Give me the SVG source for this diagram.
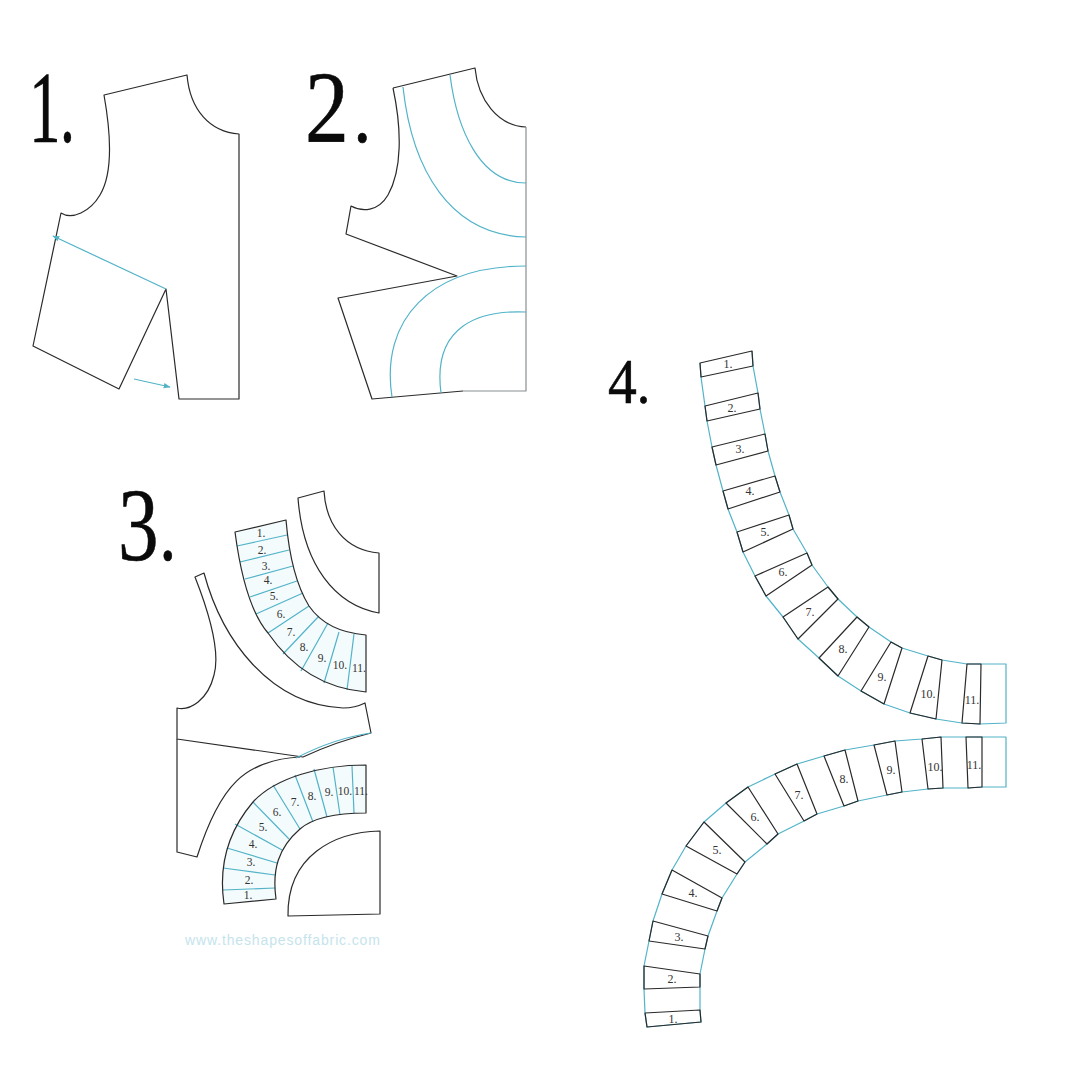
<svg xmlns="http://www.w3.org/2000/svg" width="1080" height="1080" viewBox="0 0 1080 1080">
<style>
.k{fill:none;stroke:#2a2a2a;stroke-width:1.2;stroke-linejoin:round}
.b{fill:none;stroke:#52b3c8;stroke-width:1.2;stroke-linejoin:round}
.t{fill:#f4fbfc;stroke:none}
.big{font-family:"Liberation Serif",serif;fill:#0a0a0a;stroke:#0a0a0a;stroke-width:0.6}
.n{font-family:"Liberation Serif",serif;font-size:12px;fill:#333;text-anchor:middle}
.m{font-family:"Liberation Serif",serif;font-size:11.5px;fill:#333;text-anchor:middle}
.w{font-family:"Liberation Sans",sans-serif;font-size:14px;fill:#c5e4ec;letter-spacing:0.87px}
</style>
<defs>
<marker id="ah" viewBox="0 0 10 10" refX="9" refY="5" markerWidth="7" markerHeight="7" orient="auto-start-reverse" markerUnits="userSpaceOnUse"><path d="M0,1L10,5L0,9Z" fill="#52b3c8"/></marker>
</defs>
<rect width="1080" height="1080" fill="#fff"/>

<g id="panel-1">
<text class="big" transform="translate(29,142) scale(.62,1)" font-size="102">1<tspan dx="-1" font-size="96">.</tspan></text>
<path class="k" d="M104,95L187,75C190,110 210,132 239,134L239,399L179,399L166,289L119,389L33,346L61,213C72,220 90,212 100,195C112,175 112,140 104,95Z"/>
<path class="b" d="M166,289L53,236" marker-end="url(#ah)"/>
<path class="b" d="M134,379L170,387" marker-end="url(#ah)"/>
</g>

<g id="panel-2">
<text class="big" transform="translate(305,142) scale(.86,1)" font-size="102">2<tspan dx="5" font-size="84">.</tspan></text>
<path class="k" d="M393,88L475,68C478,100 498,126 526,127"/>
<path class="k" style="stroke:#8a8f90" d="M526,127L526,391L463,391"/>
<path class="k" d="M463,391L372,399L338,298L457,276L346,234L351,206C362,212 378,212 388,195C402,170 402,130 393,88"/>
<path class="b" d="M403,87C412,170 450,235 526,237"/>
<path class="b" d="M450,75C457,130 480,183 526,183"/>
<path class="b" d="M392,397C380,320 430,266 526,266"/>
<path class="b" d="M441,393C432,325 480,310 526,312"/>
</g>

<g id="panel-3">
<text class="big" transform="translate(118,560) scale(.78,1)" font-size="104">3<tspan dx="1" font-size="88">.</tspan></text>
<g id="p3-top-piece"><path class="k" d="M298,498L324,491C326,525 345,550 379,553L379,613C335,605 303,565 298,498Z"/></g>
<g id="p3-upper-strip">
<path class="t" d="M235,532L286,520C289,555 296,585 309,606C322,625 342,633 366,635L366,692C320,688 290,665 268,633C250,612 240,570 235,532Z"/>
<path class="b" d="M237,546L287,535M240,562L289,550M245,579L293,566M250,597L297,581M256,614L303,593M268,633L309,606M283,654L319,616M301,671L328,623M324,683L339,632M347,690L354,634"/>
<path class="k" d="M235,532L286,520C289,555 296,585 309,606C322,625 342,633 366,635L366,692C320,688 290,665 268,633C250,612 240,570 235,532Z"/>
<text class="m" x="261" y="537">1.</text><text class="m" x="262" y="554">2.</text><text class="m" x="266" y="570">3.</text><text class="m" x="268" y="584">4.</text><text class="m" x="274" y="600">5.</text><text class="m" x="281" y="618">6.</text><text class="m" x="291" y="636">7.</text><text class="m" x="304" y="651">8.</text><text class="m" x="322" y="662">9.</text><text class="m" x="340" y="669">10.</text><text class="m" x="359" y="672">11.</text>
</g>
<g id="p3-body">
<path class="k" d="M177,708C190,711 208,700 214,675C221,650 208,610 195,577L204,573C222,640 270,705 343,708Q355,708 365,703L371,733Q335,742 303,757L177,739Z"/>
<path class="k" d="M177,739L177,852L197,857C220,785 245,760 300,757"/>
<path class="b" d="M296,758Q335,738 371,733"/>
</g>
<g id="p3-lower-strip">
<path class="t" d="M366,765L366,813C340,813 315,816 300,829C278,848 272,870 276,899L224,904C219,870 225,835 253,802C275,778 320,765 366,765Z"/>
<path class="b" d="M223,890L275,888M223,868L275,875M227,848L277,863M235,824L282,850M253,802L289,839M273,785L300,829M295,775L313,822M314,769L327,817M333,767L340,815M352,766L354,813"/>
<path class="k" d="M366,765L366,813C340,813 315,816 300,829C278,848 272,870 276,899L224,904C219,870 225,835 253,802C275,778 320,765 366,765Z"/>
<text class="m" x="248" y="899">1.</text><text class="m" x="249" y="884">2.</text><text class="m" x="251" y="866">3.</text><text class="m" x="253" y="848">4.</text><text class="m" x="263" y="831">5.</text><text class="m" x="277" y="816">6.</text><text class="m" x="295" y="806">7.</text><text class="m" x="312" y="800">8.</text><text class="m" x="329" y="796">9.</text><text class="m" x="345" y="795">10.</text><text class="m" x="361" y="795">11.</text>
</g>
<g id="p3-quarter"><path class="k" d="M380,831C335,832 287,855 288,916L380,914Z"/></g>
<text class="w" x="185" y="945">www.theshapesoffabric.com</text>
</g>

<g id="panel-4">
<text class="big" transform="translate(608,403) scale(.9,1)" font-size="64">4<tspan font-size="60">.</tspan></text>
<g id="p4-upper">
<path class="b" d="M700,363L701,377L705,406L707,421L712,447L716,465L723,491L728,509L737,532L743,552L755,576L766,596L783,617L798,639L819,658L838,676L861,691L884,704L910,713L936,719L962,723L980,724L1006,723L1006,664L981,664L967,664L942,660L928,656L902,648L891,642L869,627L857,617L838,599L828,587L812,565L807,553L793,529L789,515L780,492L775,476L768,451L765,434L760,409L758,393L753,366L752,351"/>
<path class="k" d="M700,363L752,351L753,366L701,377ZM705,406L758,393L760,409L707,421ZM712,447L765,434L768,451L716,465ZM723,491L775,476L780,492L728,509ZM737,532L789,515L793,529L743,552ZM755,576L807,553L812,565L766,596ZM783,617L828,587L838,599L798,639ZM819,658L857,617L869,627L838,676ZM861,691L891,642L902,648L884,704ZM910,713L928,656L942,660L936,719ZM962,723L967,664L981,664L980,724Z"/>
<text class="n" x="728" y="368">1.</text><text class="n" x="732" y="412">2.</text><text class="n" x="740" y="453">3.</text><text class="n" x="750" y="495">4.</text><text class="n" x="765" y="536">5.</text><text class="n" x="783" y="576">6.</text><text class="n" x="810" y="616">7.</text><text class="n" x="843" y="653">8.</text><text class="n" x="882" y="681">9.</text><text class="n" x="928" y="698">10.</text><text class="n" x="972" y="704">11.</text>
</g>
<g id="p4-lower">
<path class="b" d="M1006,737L982,737L966,737L941,737L922,739L895,741L874,745L845,750L824,756L797,764L775,774L748,787L726,803L704,822L686,846L672,870L662,894L653,921L649,941L644,966L644,989L645,1013L647,1027L701,1022L700,1010L700,987L700,974L705,949L708,936L717,911L722,898L737,874L745,862L767,844L778,834L804,821L817,814L844,806L858,801L887,795L902,792L928,789L943,788L968,788L982,787L1006,787Z"/>
<path class="k" d="M647,1027L645,1013L700,1010L701,1022ZM644,989L644,966L700,974L700,987ZM649,941L653,921L708,936L705,949ZM662,894L672,870L722,898L717,911ZM686,846L704,822L745,862L737,874ZM726,803L748,787L778,834L767,844ZM775,774L797,764L817,814L804,821ZM824,756L845,750L858,801L844,806ZM874,745L895,741L902,792L887,795ZM922,739L941,737L943,788L928,789ZM966,737L982,737L982,787L968,788Z"/>
<text class="n" x="673" y="1023">1.</text><text class="n" x="672" y="983">2.</text><text class="n" x="679" y="941">3.</text><text class="n" x="693" y="897">4.</text><text class="n" x="717" y="854">5.</text><text class="n" x="755" y="821">6.</text><text class="n" x="799" y="799">7.</text><text class="n" x="844" y="783">8.</text><text class="n" x="891" y="774">9.</text><text class="n" x="935" y="771">10.</text><text class="n" x="974" y="769">11.</text>
</g>
</g>
</svg>
